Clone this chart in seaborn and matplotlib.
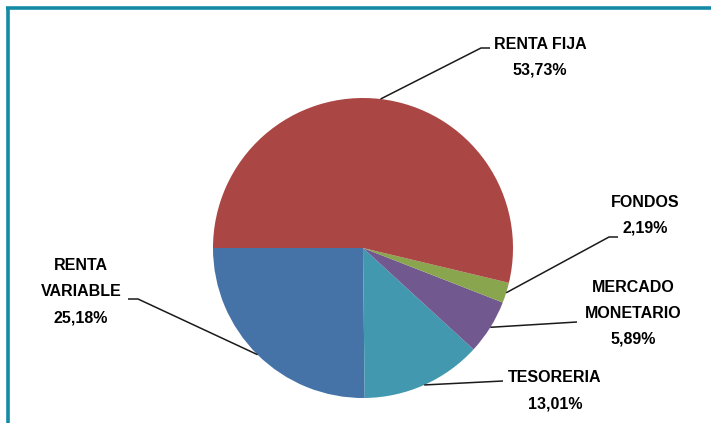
import numpy as np
import seaborn as sns
import matplotlib.pyplot as plt
from matplotlib.lines import Line2D

# datos de la composicion
categorias = ['RENTA\nVARIABLE', 'TESORERIA', 'MERCADO\nMONETARIO', 'FONDOS', 'RENTA FIJA']
valores = [25.18, 13.01, 5.89, 2.19, 53.73]
colores = ['#4572A7', '#4198AF', '#71588F', '#89A54E', '#AA4643']

# posiciones de etiquetas (pixeles, y hacia abajo) y codo de la linea guia
pos_texto = [(81, 292), (555, 391), (633, 313), (645, 215), (540, 57)]
codo = [[(138, 299), (128, 299)],
        [(503, 381)],
        [(577, 322)],
        [(609, 237), (618, 237)],
        [(481, 48), (490, 48)]]

W, H = 711, 423
sns.set_theme(style="white")
plt.rcParams['font.family'] = ['Liberation Sans', 'DejaVu Sans']

fig = plt.figure(figsize=(W / 100, H / 100), dpi=100)
ax = fig.add_axes([0, 0, 1, 1])

cx, cy, r = 363, H - 248, 150
wedges, _ = ax.pie(valores, colors=colores, startangle=180, counterclock=True,
                   center=(cx, cy), radius=r, wedgeprops=dict(linewidth=0))

ax.set_xlim(0, W)
ax.set_ylim(0, H)
ax.set_aspect('equal', adjustable='box')
ax.axis('off')

paso = 26  # separacion entre renglones en pixeles
for w, cat, val, (tx, ty), pts in zip(wedges, categorias, valores, pos_texto, codo):
    ang = np.deg2rad((w.theta1 + w.theta2) / 2)
    xs = [cx + r * np.cos(ang)] + [p[0] for p in pts]
    ys = [cy + r * np.sin(ang)] + [H - p[1] for p in pts]
    ax.plot(xs, ys, color='#1a1a1a', lw=1.1, solid_capstyle='butt')
    renglones = cat.split('\n') + [('%.2f' % val).replace('.', ',') + '%']
    n = len(renglones)
    for i, t in enumerate(renglones):
        y = ty + (i - (n - 1) / 2) * paso
        ax.text(tx, H - y, t, ha='center', va='center', fontsize=11.5,
                fontweight='bold', color='black')

# marco del grafico (solo arriba e izquierda visibles)
borde = '#138BA6'
fig.add_artist(Line2D([6 / W, 1], [1 - 8.5 / H, 1 - 8.5 / H], color=borde, lw=2.6,
                      solid_capstyle='butt', transform=fig.transFigure))
fig.add_artist(Line2D([7.5 / W, 7.5 / W], [0, 1 - 8.5 / H], color=borde, lw=2.6,
                      solid_capstyle='butt', transform=fig.transFigure))

fig.savefig('out.png', dpi=100, facecolor='white')
